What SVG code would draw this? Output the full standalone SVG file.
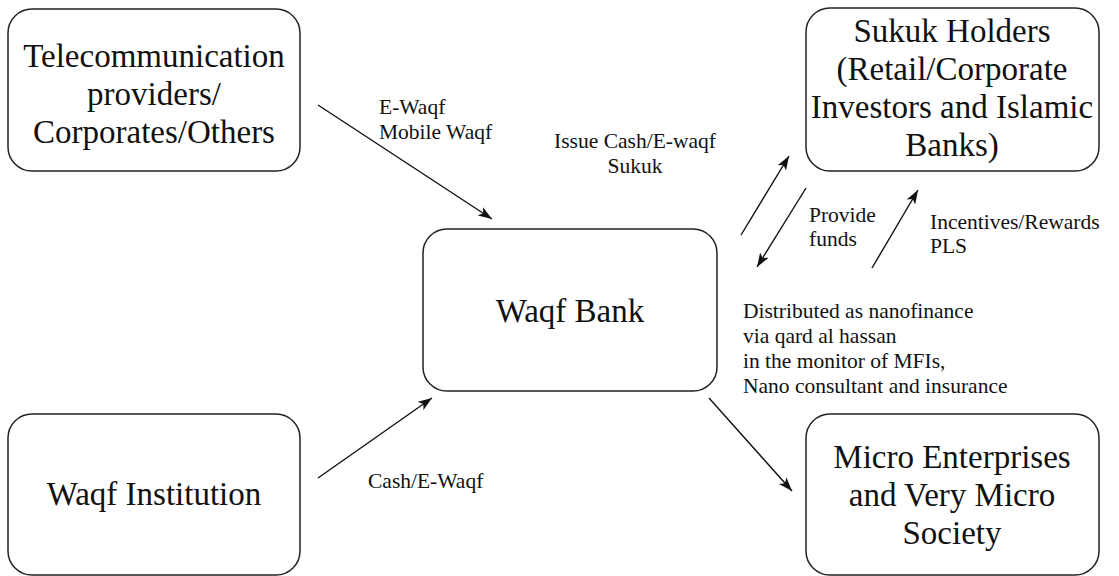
<svg xmlns="http://www.w3.org/2000/svg" width="1119" height="576" viewBox="0 0 1119 576">
<style>
.box{fill:#fff;stroke:#222;stroke-width:1.5}
.big{font-family:"Liberation Serif","Times New Roman",Times,serif;font-size:33px;fill:#111;text-anchor:middle}
.lbl{font-family:"Liberation Serif","Times New Roman",Times,serif;font-size:21.5px;fill:#111}
.edge{stroke:#111;stroke-width:1.4;fill:none;marker-end:url(#arr)}
</style>
<defs>
<marker id="arr" markerUnits="userSpaceOnUse" viewBox="0 0 14 10" refX="14" refY="5" markerWidth="14" markerHeight="10" orient="auto">
<path d="M0,0 L14,5 L0,10 L3.5,5 Z" fill="#111"/>
</marker>
</defs>
<rect width="1119" height="576" fill="#fff"/>
<g id="telecom">
<rect class="box" x="8" y="9" width="292" height="162" rx="24"/>
<text class="big" x="154" y="67">Telecommunication</text>
<text class="big" x="154" y="105">providers/</text>
<text class="big" x="154" y="143">Corporates/Others</text>
</g>
<g id="sukuk">
<rect class="box" x="806" y="8" width="293" height="163" rx="24"/>
<text class="big" x="952" y="42">Sukuk Holders</text>
<text class="big" x="952" y="80">(Retail/Corporate</text>
<text class="big" x="952" y="118">Investors and Islamic</text>
<text class="big" x="952" y="156">Banks)</text>
</g>
<g id="waqfbank">
<rect class="box" x="423" y="229" width="294" height="162" rx="24"/>
<text class="big" x="570" y="322">Waqf Bank</text>
</g>
<g id="institution">
<rect class="box" x="8" y="414" width="292" height="161" rx="24"/>
<text class="big" x="154" y="505">Waqf Institution</text>
</g>
<g id="micro">
<rect class="box" x="806" y="414" width="293" height="161" rx="24"/>
<text class="big" x="952" y="468">Micro Enterprises</text>
<text class="big" x="952" y="506">and Very Micro</text>
<text class="big" x="952" y="544">Society</text>
</g>
<g id="connectors">
<line class="edge" x1="318" y1="105" x2="492" y2="219"/>
<line class="edge" x1="318" y1="478" x2="432" y2="398"/>
<line class="edge" x1="741" y1="235" x2="789" y2="156"/>
<line class="edge" x1="806" y1="188" x2="757" y2="267"/>
<line class="edge" x1="872" y1="268" x2="918" y2="190"/>
<line class="edge" x1="709" y1="398" x2="792" y2="491"/>
<text class="lbl" x="379" y="114">E-Waqf</text>
<text class="lbl" x="379" y="139">Mobile Waqf</text>
<text class="lbl" x="635" y="148" text-anchor="middle">Issue Cash/E-waqf</text>
<text class="lbl" x="635" y="173" text-anchor="middle">Sukuk</text>
<text class="lbl" x="809" y="222">Provide</text>
<text class="lbl" x="809" y="246">funds</text>
<text class="lbl" x="930" y="229">Incentives/Rewards</text>
<text class="lbl" x="930" y="253">PLS</text>
<text class="lbl" x="743" y="318">Distributed as nanofinance</text>
<text class="lbl" x="743" y="343">via qard al hassan</text>
<text class="lbl" x="743" y="368">in the monitor of MFIs,</text>
<text class="lbl" x="743" y="393">Nano consultant and insurance</text>
<text class="lbl" x="368" y="488">Cash/E-Waqf</text>
</g>
</svg>
